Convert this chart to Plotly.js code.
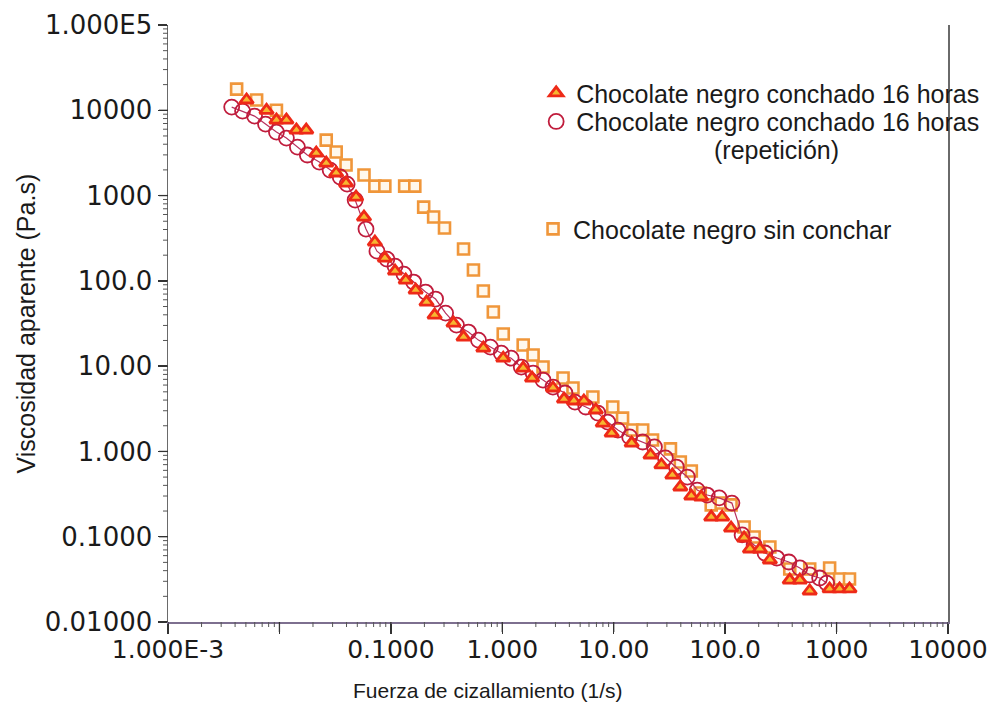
<!DOCTYPE html>
<html>
<head>
<meta charset="utf-8">
<script src="https://cdn.plot.ly/plotly-3.0.1.min.js"></script>
<style>html,body{margin:0;padding:0;background:#fff;}#chart{width:997px;height:712px;}</style>
</head>
<body>
<div id="chart"></div>
<script>
// Chocolate negro sin conchar (squares)
const shearSinConchar = [0.00413,0.00624,0.0094,0.0263,0.0323,0.0396,0.0574,0.0719,0.0883,0.133,0.164,0.197,0.242,0.303,0.449,0.551,0.676,0.831,1.02,1.54,1.89,2.32,3.51,4.31,6.50,9.80,12.0,14.8,18.2,22.3,32.3,39.6,49.7,59.8,75.0,92.1,113,148,182,252,380,574,866,1064,1306];
const viscSinConchar = [17700,13200,10000,4470,3240,2280,1740,1290,1290,1290,1290,733,560,416,236,134,75.9,43.1,23.8,17.7,13.5,9.76,7.25,5.54,4.34,3.32,2.46,1.78,1.78,1.36,1.07,0.752,0.589,0.325,0.236,0.248,0.236,0.130,0.0991,0.0757,0.0418,0.0418,0.0430,0.0319,0.0319];

// Chocolate negro conchado 16 horas (triangles)
const shear16h = [0.00507,0.00766,0.0094,0.01155,0.0142,0.0174,0.0214,0.0263,0.0323,0.0396,0.0487,0.0574,0.0719,0.0883,0.109,0.136,0.167,0.209,0.247,0.365,0.449,0.676,1.02,1.54,1.85,2.85,3.58,4.39,5.40,6.91,7.98,9.59,14.5,21.4,26.8,33.6,39.6,49.7,61.0,75.0,94.0,113,148,167,205,252,380,468,574,866,1064,1306];
const visc16h = [13200,10000,7680,7680,5860,5860,3150,2400,1840,1400,960,560,285,185,130,102,78.0,56.4,39.7,32.0,21.9,16.3,12.4,9.50,7.25,5.54,4.11,3.90,3.90,3.06,2.15,1.64,1.25,0.908,0.694,0.528,0.383,0.300,0.292,0.170,0.170,0.126,0.0966,0.0718,0.0718,0.0533,0.0310,0.0310,0.0231,0.0244,0.0244,0.0244];

// Chocolate negro conchado 16 horas (repetición) (circles)
const shear16hRep = [0.00373,0.00467,0.00598,0.0075,0.0094,0.01155,0.0145,0.0178,0.0228,0.0285,0.0351,0.0405,0.0478,0.0598,0.0750,0.0921,0.109,0.131,0.160,0.205,0.252,0.310,0.388,0.497,0.611,0.782,0.980,1.20,1.48,1.89,2.32,2.85,3.65,4.49,5.62,7.20,8.84,10.9,13.9,18.2,23.2,29.1,36.5,45.8,56.2,69.0,88.4,115,142,182,228,291,373,468,574,705,815];
const visc16hRep = [10900,9790,8550,6890,5550,4720,3700,2990,2470,1990,1650,1360,886,405,223,180,149,120,96.8,73.9,61.2,41.9,30.3,25.1,20.2,16.7,14.2,12.4,9.76,8.30,6.87,5.69,4.84,3.79,3.32,2.82,2.21,1.78,1.48,1.29,1.13,0.838,0.656,0.501,0.352,0.308,0.285,0.248,0.105,0.080,0.0644,0.0562,0.0505,0.0430,0.0356,0.0328,0.0286];

const xTickVals = [0.001,0.01,0.1,1,10,100,1000,10000];
const xTickText = ['1.000E-3','','0.1000','1.000','10.00','100.0','1000','10000'];
const yTickVals = [0.01,0.1,1,10,100,1000,10000,100000];
const yTickText = ['0.01000','0.1000','1.000','10.00','100.0','1000','10000','1.000E5'];

// Tick marks (axis decoration): minor 2..9 per decade plus majors, as pixel-length shapes
function tickShapes(majors, axis) {
  const shapes = [];
  const add = (v, len, w, col) => {
    if (axis === 'x') {
      shapes.push({type: 'line', xref: 'x', yref: 'paper', ysizemode: 'pixel', yanchor: 0,
        x0: v, x1: v, y0: -len, y1: 0, line: {color: col, width: w}, layer: 'above'});
    } else {
      shapes.push({type: 'line', yref: 'y', xref: 'paper', xsizemode: 'pixel', xanchor: 0,
        y0: v, y1: v, x0: -len, x1: 0, line: {color: col, width: w}, layer: 'above'});
    }
  };
  for (let i = 0; i < majors.length; i++) {
    add(majors[i], axis === 'x' ? 10 : 9, 1.3, '#333');
    if (i < majors.length - 1) {
      for (let m = 2; m <= 9; m++) add(majors[i] * m, 5, 1, '#555');
    }
  }
  return shapes;
}

const nameTri = 'Chocolate negro conchado 16 horas';
const nameCirc = 'Chocolate negro conchado 16 horas';
const nameSq = 'Chocolate negro sin conchar';

const traces = [
  {
    x: shearSinConchar, y: viscSinConchar, type: 'scatter', mode: 'markers', name: nameSq,
    legend: 'legend3',
    marker: {symbol: 'square', size: 11, color: '#fff8ec', line: {color: '#f0963a', width: 2.6}}
  },
  {
    x: shear16hRep, y: visc16hRep, type: 'scatter', mode: 'lines', showlegend: false,
    line: {color: '#b8305e', width: 1.2}, hoverinfo: 'skip'
  },
  {
    x: shear16hRep, y: visc16hRep, type: 'scatter', mode: 'markers', name: nameCirc,
    legend: 'legend2',
    marker: {symbol: 'circle-open', size: 15, color: '#c01c3c', line: {width: 1.8}}
  },
  {
    x: shear16h, y: visc16h, type: 'scatter', mode: 'markers', name: nameTri,
    legend: 'legend',
    marker: {symbol: 'triangle-up', size: 12, color: '#f6b730', line: {color: '#ee2a18', width: 2.8}}
  }
];

const legFont = {family: 'Liberation Sans, Arial, sans-serif', size: 25, color: '#1a1a1a'};
const legBase = {font: legFont, bgcolor: 'rgba(0,0,0,0)', borderwidth: 0, xanchor: 'left', yanchor: 'middle', itemwidth: 30, valign: 'middle'};

const layout = {
  width: 997, height: 712,
  margin: {l: 168, r: 45, t: 25, b: 90},
  paper_bgcolor: '#ffffff', plot_bgcolor: '#ffffff',
  showlegend: true,
  xaxis: {
    type: 'log', range: [-3, 4], tickmode: 'array', tickvals: xTickVals, ticktext: xTickText,
    ticks: 'outside', ticklen: 10, tickwidth: 1.3, tickcolor: '#333', ticklabelstandoff: -6,
    showgrid: false, zeroline: false, showline: true, linecolor: '#7d6f8f', linewidth: 1.5,
    tickfont: {family: 'DejaVu Sans, sans-serif', size: 25, color: '#1a1a1a'}
  },
  yaxis: {
    type: 'log', range: [-2, 5], tickmode: 'array', tickvals: yTickVals, ticktext: yTickText,
    ticks: 'outside', ticklen: 9, tickwidth: 1.3, tickcolor: '#333',
    showgrid: false, zeroline: false, showline: true, mirror: true, linecolor: '#6a6a6a', linewidth: 1.5,
    tickfont: {family: 'DejaVu Sans, sans-serif', size: 26, color: '#1a1a1a'}
  },
  shapes: tickShapes(xTickVals, 'x').concat(tickShapes(yTickVals, 'y')),
  legend: Object.assign({}, legBase, {x: 0.472, y: 0.886}),
  legend2: Object.assign({}, legBase, {x: 0.472, y: 0.838}),
  legend3: Object.assign({}, legBase, {x: 0.468, y: 0.658}),
  annotations: [
    {text: '(repetición)', xref: 'paper', yref: 'paper', x: 0.78, y: 0.79, xanchor: 'center', yanchor: 'middle', showarrow: false, font: legFont},
    {text: 'Fuerza de cizallamiento (1/s)', xref: 'paper', yref: 'paper', x: 0.41, y: 0, yshift: -68, xanchor: 'center', yanchor: 'middle', showarrow: false, font: {family: 'Liberation Sans, Arial, sans-serif', size: 21, color: '#1a1a1a'}},
    {text: 'Viscosidad aparente (Pa.s)', xref: 'paper', yref: 'paper', x: 0, xshift: -143, y: 0.5, xanchor: 'center', yanchor: 'middle', textangle: -90, showarrow: false, font: {family: 'Liberation Sans, Arial, sans-serif', size: 25, color: '#1a1a1a'}}
  ]
};

Plotly.newPlot('chart', traces, layout, {displayModeBar: false, staticPlot: true});
</script>
</body>
</html>
